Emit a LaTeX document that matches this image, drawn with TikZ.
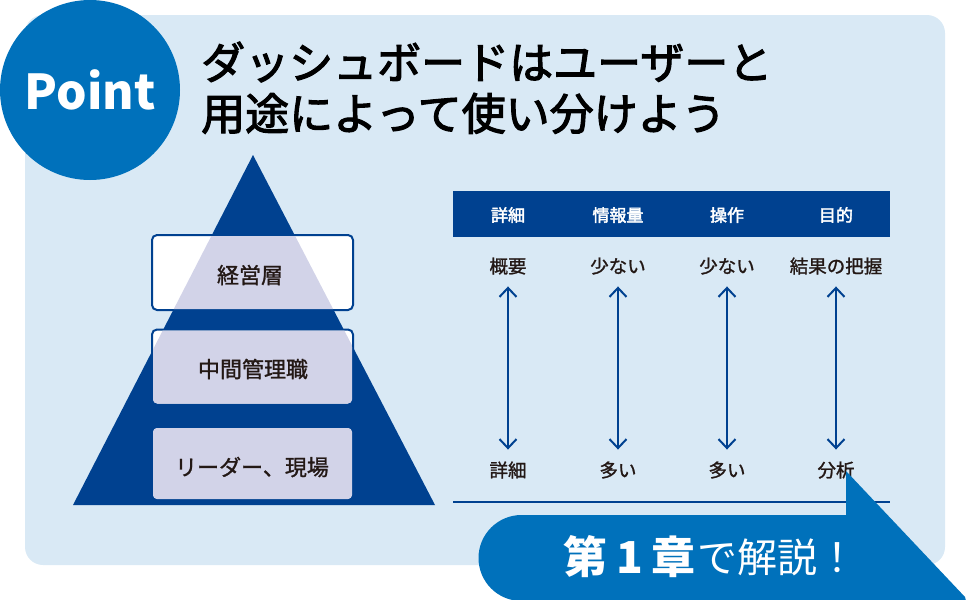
\documentclass[tikz,border=0pt]{standalone}
\usepackage{fontspec}
\setmainfont{Noto Sans CJK JP}
\newfontfamily\medfont[FakeBold=2.5]{Noto Sans CJK JP}
\newfontfamily\semifont[FakeBold=1.2]{Noto Sans CJK JP}
\usepackage{xcolor}
\usetikzlibrary{positioning,arrows.meta}

\definecolor{paleblue}{RGB}{217,233,245}
\definecolor{pointblue}{RGB}{0,113,187}
\definecolor{navy}{RGB}{0,65,144}
\definecolor{lav}{RGB}{210,211,232}
\definecolor{ink}{RGB}{35,24,21}

\begin{document}
\begin{tikzpicture}[x=1pt, y=-1pt,
    badge/.style={circle, fill=pointblue, minimum size=180pt, inner sep=0pt,
                  text=white, font=\fontsize{48}{48}\selectfont\bfseries},
    title/.style={inner sep=0pt, text=black, font=\fontsize{44}{52}\medfont},
    tier/.style={draw=navy, line width=2pt, fill=white, rounded corners=5pt,
                 minimum width=201pt, minimum height=75pt, inner sep=0pt},
    tiertxt/.style={inner sep=0pt, text=ink, text height=19.4pt, text depth=2.6pt,
                    font=\fontsize{22}{22}\semifont},
    hd/.style={inner sep=0pt, text=white, text height=15pt, text depth=2pt,
               font=\fontsize{17}{17}\medfont},
    lbl/.style={inner sep=0pt, text=ink, text height=16.3pt, text depth=2.2pt,
                font=\fontsize{18.5}{18.5}\semifont},
    ar/.style={{Straight Barb[length=9pt,width=17pt]}-{Straight Barb[length=9pt,width=17pt]},
               line width=2pt, draw=navy, shorten <=11pt, shorten >=11pt},
    callbig/.style={inner sep=0pt, text=white, text height=38.7pt, text depth=5.3pt,
                    font=\fontsize{44}{44}\selectfont\bfseries},
    callsmall/.style={inner sep=0pt, text=white, text height=35.2pt, text depth=4.8pt,
                      font=\fontsize{40}{40}\selectfont},
    node distance=51pt and 0pt, on grid,
]
\useasboundingbox (0,0) rectangle (970,600);

% panel
\fill[paleblue, rounded corners=18pt] (25,15) rectangle (945,565);

% badge and heading
\node[badge] (point) at (90,90) {Point};
\node[title, anchor=base west] (title1) at (201,79) {ダッシュボードはユーザーと};
\node[title, anchor=base west] (title2) at (201,130) {用途によって使い分けよう};

% pyramid
\coordinate (apex) at (253,155);
\coordinate (bl) at (73,505);
\coordinate (br) at (435,505);
\fill[navy] (apex) -- (bl) -- (br) -- cycle;

\node[tier] (exec) at (252.5,272.5) {};
\node[tier] (mid) at (252.5,367) {};
\node[tier, minimum height=73pt] (lead) at (252.5,463.5) {};

\begin{scope}
  \clip (apex) -- (bl) -- (br) -- cycle;
  \fill[lav, rounded corners=4pt] ([shift={(2,2)}]exec.north west) rectangle ([shift={(-2,-2)}]exec.south east);
  \fill[lav, rounded corners=4pt] ([shift={(2,2)}]mid.north west) rectangle ([shift={(-2,-2)}]mid.south east);
  \fill[lav, rounded corners=4pt] ([shift={(2,2)}]lead.north west) rectangle ([shift={(-2,-2)}]lead.south east);
\end{scope}

\node[tiertxt] (exectxt) at (250,275) {経営層};
\node[tiertxt] (midtxt) at (253,369) {中間管理職};
\node[tiertxt] (leadtxt) at (252,467) {リーダー、現場};

% table
\node[fill=navy, minimum width=437pt, minimum height=46pt, inner sep=0pt] (bar) at (671.5,214) {};
\node[hd] (h1) at (508,215) {詳細};
\node[hd] (h2) at (618,215) {情報量};
\node[hd] (h3) at (727,215) {操作};
\node[hd] (h4) at (836,215) {目的};

\node[lbl, below=51pt of h1] (t1) {概要};
\node[lbl, below=51pt of h2] (t2) {少ない};
\node[lbl, below=51pt of h3] (t3) {少ない};
\node[lbl, below=51pt of h4] (t4) {結果の把握};

\node[lbl, below=204pt of t1] (b1) {詳細};
\node[lbl, below=204pt of t2] (b2) {多い};
\node[lbl, below=204pt of t3] (b3) {多い};
\node[lbl, below=204pt of t4] (b4) {分析};

\draw[ar] (t1) -- (b1);
\draw[ar] (t2) -- (b2);
\draw[ar] (t3) -- (b3);
\draw[ar] (t4) -- (b4);

\draw[navy, line width=2.5pt] (453,502) -- (890,502);

% callout
\fill[pointblue] (846,471) -- (965,597) -- (966,601) -- (521.5,601)
  arc[start angle=270, end angle=90, radius=43pt] -- (846,515) -- cycle;
\node[callbig, anchor=west] (chap) at (563,557) {第\kern9pt 1\kern9pt 章};
\node[callsmall, anchor=west] (expl) at (697,557) {で解説！};
\end{tikzpicture}
\end{document}
